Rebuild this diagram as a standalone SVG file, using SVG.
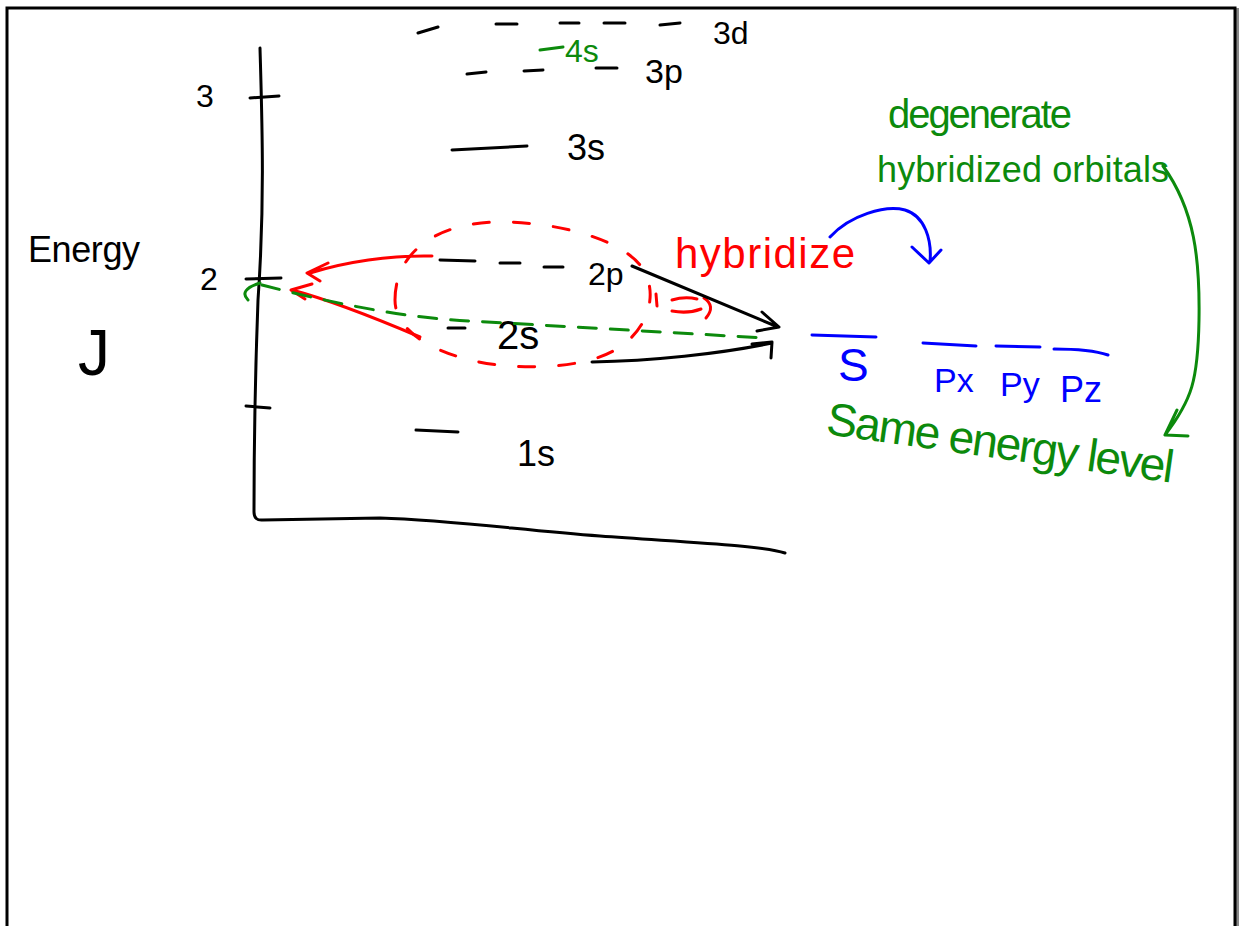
<svg xmlns="http://www.w3.org/2000/svg" width="1239" height="926" viewBox="0 0 1239 926">
<style>
.k{stroke:#000;stroke-width:3;fill:none;stroke-linecap:round;stroke-linejoin:round}
.r{stroke:#f00;stroke-width:3;fill:none;stroke-linecap:round;stroke-linejoin:round}
.g{stroke:#0c8a0c;stroke-width:3;fill:none;stroke-linecap:round;stroke-linejoin:round}
.b{stroke:#00f;stroke-width:3;fill:none;stroke-linecap:round;stroke-linejoin:round}
.t{font-family:"Liberation Sans",Arial,sans-serif}
.tk{fill:#000}.tr{fill:#f00}.tg{fill:#0c8a0c}.tb{fill:#00f}
</style>
<rect x="0" y="0" width="1239" height="926" fill="#fff"/>
<g id="frame">
<rect x="1236" y="8" width="3" height="918" fill="#888"/>
<path d="M7,926 V8 H1235 V926" fill="none" stroke="#000" stroke-width="3"/>
</g>
<g id="axes">
<path class="k" d="M260,48 C262,120 265,200 258,300 C255,380 254,450 254,512 Q254,521 263,520 L380,518 C450,520 520,530 600,536 C680,542 760,545 785,553"/>
<path class="k" d="M250,98 L279,96 M246,279 L281,278 M246,406 L270,408"/>
<text class="t tk" x="196" y="107" font-size="32">3</text>
<text class="t tk" x="200" y="290" font-size="32">2</text>
<text class="t tk" x="28" y="262" font-size="36" textLength="112">Energy</text>
<text class="t tk" x="78" y="375" font-size="64" textLength="46">J</text>
</g>
<g id="level-3d">
<path class="k" d="M418,33 L438,27 M496,24 L517,24 M560,23 L579,23 M604,23 L625,23 M660,25 L680,23"/>
<text class="t tk" x="713" y="44" font-size="32">3d</text>
</g>
<g id="level-4s">
<path class="g" d="M540,50 L563,47"/>
<text class="t tg" x="565" y="62" font-size="32">4s</text>
</g>
<g id="level-3p">
<path class="k" d="M467,74 L486,72 M524,71 L543,70 M596,68 L617,68"/>
<text class="t tk" x="645" y="83" font-size="34">3p</text>
</g>
<g id="level-3s">
<path class="k" d="M452,150 L527,146"/>
<text class="t tk" x="567" y="160" font-size="36">3s</text>
</g>
<g id="level-2p">
<path class="k" d="M440,260 L475,261 M500,263 L520,263 M544,267 L563,267"/>
<text class="t tk" x="588" y="285" font-size="32">2p</text>
</g>
<g id="level-2s">
<path class="k" d="M448,328 L465,328"/>
<text class="t tk" x="497" y="349" font-size="40">2s</text>
</g>
<g id="level-1s">
<path class="k" d="M416,430 L458,432"/>
<text class="t tk" x="517" y="466" font-size="36">1s</text>
</g>
<g id="hybrid-group">
<path class="r" stroke-dasharray="16 24" d="M395,300 C395,250 440,222 500,222 C560,222 620,240 640,265 C660,290 650,330 615,350 C585,368 520,372 470,360 C430,350 395,330 395,300 Z"/>
<path class="r" d="M656,294 L657,306 M672,300 Q685,296 697,299 M672,311 Q688,314 701,309 M704,298 Q716,306 706,318"/>
<text class="t tr" x="675" y="268" font-size="42" textLength="180">hybridize</text>
</g>
<g id="hybrid-levels">
<path class="b" d="M812,335 L876,337 M923,343 L976,346 M996,346 L1040,347 M1054,349 Q1090,349 1108,355"/>
<text class="t tb" x="838" y="381" font-size="46">S</text>
<text class="t tb" x="934" y="392" font-size="34">Px</text>
<text class="t tb" x="1000" y="396" font-size="34">Py</text>
<text class="t tb" x="1060" y="402" font-size="36">Pz</text>
</g>
<g id="note-degenerate">
<text class="t tg" x="888" y="128" font-size="40" textLength="184">degenerate</text>
<text class="t tg" x="877" y="182" font-size="36" textLength="292">hybridized orbitals</text>
</g>
<g id="note-same">
<text class="t tg" x="825" y="434" font-size="46" textLength="350" transform="rotate(8 825 434)">Same energy level</text>
</g>
<g id="connectors">
<path class="r" d="M432,256 C390,255 345,262 310,273 M328,263 L307,273 L320,281"/>
<path class="r" d="M420,337 C380,320 330,300 292,290 M312,284 L291,290 L305,299"/>
<path class="g" d="M248,300 Q238,290 260,283"/>
<path class="g" stroke-dasharray="18 14" d="M262,285 C320,300 400,318 470,321 L765,338"/>
<path class="k" d="M632,266 L778,327 M762,312 L779,327 L757,331"/>
<path class="k" d="M592,362 C650,361 720,354 772,343 M752,344 L772,342 L771,358"/>
<path class="b" d="M830,237 C850,215 885,205 905,210 C925,216 932,240 930,262 M912,247 L929,263 L941,250"/>
<path class="g" d="M1163,166 C1195,210 1200,260 1199,320 C1198,380 1192,400 1165,435 M1177,410 L1165,435 L1188,436"/>
</g>
</svg>
